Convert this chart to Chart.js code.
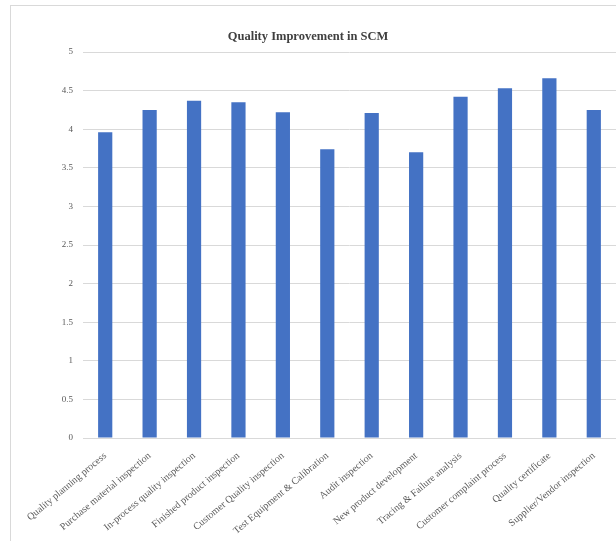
<!DOCTYPE html>
<html>
<head>
<meta charset="utf-8">
<title>Quality Improvement in SCM</title>
<script src="https://cdn.jsdelivr.net/npm/chart.js@4.4.1/dist/chart.umd.min.js"></script>
<style>
  html, body { margin: 0; padding: 0; background: #ffffff; }
  #wrap { width: 616px; height: 541px; position: relative; }
</style>
</head>
<body>
<div id="wrap"><canvas id="grafico" width="616" height="541"></canvas></div>
<script>
// categorias e médias de cada item
const categorias = [
  'Quality planning process',
  'Purchase material inspection',
  'In-process quality inspection',
  'Finished product inspection',
  'Customer Quality inspection',
  'Test Equipment & Calibration',
  'Audit inspection',
  'New product development',
  'Tracing & Failure analysis',
  'Customer complaint process',
  'Quality certificate',
  'Supplier/Vendor inspection'
];
const medias = [3.96, 4.25, 4.37, 4.35, 4.22, 3.74, 4.21, 3.70, 4.42, 4.53, 4.66, 4.25];
const ticksY = [0, 0.5, 1, 1.5, 2, 2.5, 3, 3.5, 4, 4.5, 5];

const corTexto = '#595959', corGrid = '#d9d9d9';
const fonte = '"Liberation Serif", "Times New Roman", serif';

// moldura cinza clara em volta da área do gráfico
const moldura = {
  id: 'moldura',
  beforeDraw(chart) {
    const ctx = chart.ctx;
    ctx.save();
    ctx.strokeStyle = '#d9d9d9';
    ctx.lineWidth = 1;
    ctx.strokeRect(10.5, 5.5, chart.width + 10, chart.height + 10);
    ctx.restore();
  }
};

new Chart('grafico', {
  type: 'bar',
  data: {
    labels: categorias,
    datasets: [{
      data: medias,
      backgroundColor: '#4472C4',
      categoryPercentage: 1,
      barPercentage: 0.32
    }]
  },
  options: {
    responsive: false,
    animation: false,
    layout: { padding: { left: 0, right: 0, top: 0, bottom: 0 } },
    plugins: {
      legend: { display: false },
      tooltip: { enabled: false },
      title: {
        display: true,
        text: 'Quality Improvement in SCM',
        color: '#404040',
        font: { family: fonte, size: 12.5, weight: 'bold' },
        padding: { top: 29, bottom: 8 }
      }
    },
    scales: {
      y: {
        min: 0,
        max: 5,
        afterBuildTicks: (s) => { s.ticks = ticksY.map(v => ({ value: v })); },
        afterFit: (s) => { s.width = 83; },
        ticks: {
          color: corTexto,
          padding: 10,
          font: { family: fonte, size: 9 },
          callback: (v) => String(v)
        },
        grid: { color: corGrid, drawTicks: false },
        border: { display: false }
      },
      x: {
        afterFit: (s) => { s.height = 103; },
        ticks: {
          color: corTexto,
          font: { family: fonte, size: 10 },
          minRotation: 40,
          maxRotation: 40,
          autoSkip: false,
          padding: 4
        },
        grid: { display: false },
        border: { display: true, color: corGrid }
      }
    }
  },
  plugins: [moldura]
});
</script>
</body>
</html>
